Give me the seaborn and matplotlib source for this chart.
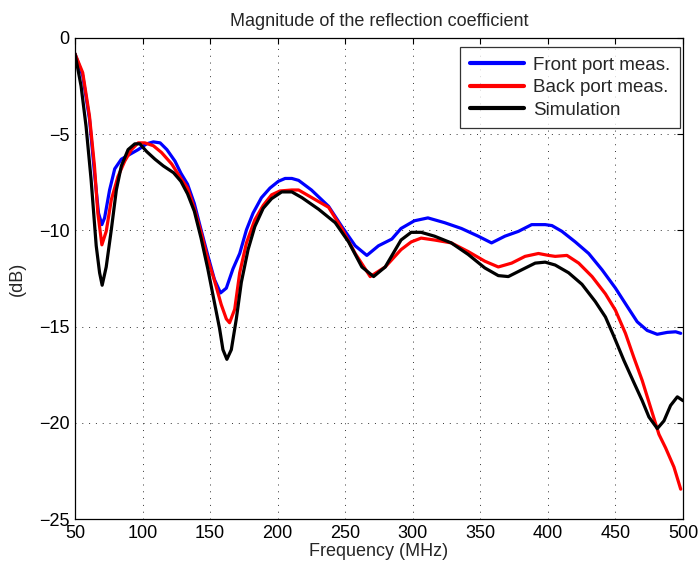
import matplotlib
matplotlib.use("Agg")
import matplotlib.pyplot as plt
import seaborn as sns
import pandas as pd

series_names = ["Front port meas.", "Back port meas.", "Simulation"]
colors = ["#0000ff", "#ff0000", "#000000"]

front_x = [50, 55.7, 60.7, 64.4, 67.4, 69.9, 71.9, 75.6, 79.4, 84.3, 90.5, 96.8, 103, 108, 113, 118, 124,
           128.4, 133.3, 138.3, 143.3, 148.3, 153.2, 157.7, 162, 166.9, 171.9, 176.9, 181.8, 188, 194.3,
           200.5, 205.5, 210.5, 215.5, 225, 237.7, 247.5, 257.4, 266, 274.6, 284.5, 291.3, 301.2, 311.2,
           323.6, 336, 348.4, 358.3, 368.2, 378.2, 388, 398, 403, 410.4, 420.3, 430.2, 440.1, 450, 458.7,
           466.1, 473.5, 480.9, 488.4, 494.6, 498.3]
front_y = [-0.82, -1.95, -4.2, -7.0, -9.1, -9.7, -9.35, -7.9, -6.8, -6.3, -6.05, -5.8, -5.5, -5.4, -5.45, -5.8, -6.4,
           -7.03, -7.6, -8.6, -9.97, -11.3, -12.55, -13.25, -13.0, -12.0, -11.2, -9.97, -9.1, -8.3, -7.8,
           -7.45, -7.3, -7.3, -7.4, -7.9, -8.75, -9.8, -10.8, -11.3, -10.8, -10.45, -9.9, -9.5, -9.35,
           -9.6, -9.9, -10.3, -10.65, -10.3, -10.05, -9.7, -9.7, -9.75, -10.05, -10.6, -11.2, -12.05, -13.0, -13.95,
           -14.75, -15.2, -15.4, -15.3, -15.27, -15.35]

back_x = [50, 55.7, 60.7, 64.4, 66.9, 69.9, 73.1, 76.9, 81.8, 86.8, 91.8, 96.8, 101.7, 108, 114, 121.6,
          128.4, 133.3, 138.3, 143.3, 148.3, 153.2, 158.2, 162, 164.4, 168.2, 171.9, 176.9, 183.1, 189.3,
          195.5, 201.7, 210.5, 215.5, 227.8, 237.7, 247.5, 257.4, 268.5, 279.6, 291.3, 298.8, 306.2, 316.1,
          328.5, 341, 353.3, 363.3, 373.2, 383.1, 393, 400.5, 405.4, 414.1, 422.8, 432.7, 442.6, 450, 457.4,
          463.6, 469.8, 476, 482.2, 487.1, 493.3, 498.3]
back_y = [-0.82, -1.8, -4.05, -6.65, -9.1, -10.75, -10.05, -8.4, -7.2, -6.4, -5.8, -5.45, -5.45, -5.6, -5.95, -6.55,
          -7.3, -7.8, -8.85, -10.1, -11.5, -12.6, -13.85, -14.6, -14.8, -14.1, -12.2, -10.65, -9.45, -8.7,
          -8.15, -7.95, -7.9, -7.9, -8.4, -8.8, -9.9, -11.2, -12.4, -11.9, -11.0, -10.6, -10.4, -10.5,
          -10.65, -11.1, -11.6, -11.9, -11.7, -11.35, -11.2, -11.3, -11.35, -11.3, -11.7, -12.4, -13.3, -14.15, -15.35,
          -16.6, -17.8, -19.2, -20.6, -21.3, -22.3, -23.45]

sim_x = [50, 54.5, 58.2, 61.9, 65.7, 68.2, 70.1, 73.1, 76.9, 80.6, 84.3, 89.3, 94.3, 98, 103, 109.2, 115.4,
         122.9, 128.4, 133.3, 138.3, 143.3, 148.3, 153.2, 157, 159.5, 162.4, 165.7, 169.4, 173.1, 178.1,
         183.1, 189.3, 195.5, 203, 210.5, 218, 230.3, 242.6, 252.5, 262.3, 271, 279.6, 291.3, 298.8, 306.2,
         316.1, 328.5, 341, 353.3, 363.3, 370.7, 380.6, 390.6, 398, 405.4, 415.3, 425.2, 435.1, 442.6, 448.8,
         456.2, 463.6, 469.8, 474.8, 481, 485.9, 490.8, 495.8, 500]
sim_y = [-0.82, -2.5, -4.6, -7.35, -10.8, -12.2, -12.85, -11.9, -9.95, -7.9, -6.65, -5.8, -5.5, -5.5, -5.9, -6.3, -6.65,
         -7.0, -7.45, -8.1, -9.0, -10.4, -12.0, -13.75, -15.1, -16.2, -16.7, -16.2, -14.6, -12.7, -11.0,
         -9.8, -8.85, -8.35, -8.0, -8.0, -8.3, -8.9, -9.6, -10.6, -11.9, -12.4, -11.9, -10.5, -10.1, -10.1,
         -10.3, -10.65, -11.25, -11.95, -12.35, -12.4, -12.05, -11.7, -11.65, -11.8, -12.2, -12.8, -13.7, -14.5, -15.5,
         -16.75, -17.9, -18.85, -19.7, -20.3, -19.9, -19.1, -18.65, -18.85]

x_ticks = [50, 100, 150, 200, 250, 300, 350, 400, 450, 500]
y_ticks = [0, -5, -10, -15, -20, -25]

frames = []
for name, xs, ys in zip(series_names, [front_x, back_x, sim_x], [front_y, back_y, sim_y]):
    frames.append(pd.DataFrame({"Frequency": xs, "dB": ys, "Series": name}))
df = pd.concat(frames, ignore_index=True)

sns.set_style("white")
plt.rcParams["font.family"] = ["Liberation Sans", "DejaVu Sans"]
plt.rcParams["axes.unicode_minus"] = True

fig = plt.figure(figsize=(6.99, 5.70), dpi=100)
ax = fig.add_axes([75 / 699, 1 - 519 / 570, (683 - 75) / 699, (519 - 38) / 570])

sns.lineplot(data=df, x="Frequency", y="dB", hue="Series", hue_order=series_names,
             palette=colors, sort=False, estimator=None, linewidth=2.3, ax=ax)

ax.set_xlim(50, 500)
ax.set_ylim(-25, 0)
ax.set_xticks(x_ticks)
ax.set_yticks(y_ticks)
ax.grid(True, color="#333333", linestyle=(0, (1, 6)), linewidth=0.7)
ax.tick_params(direction="in", length=4, width=0.8, top=True, right=True,
               labelsize=13, colors="black", pad=4)
for s in ax.spines.values():
    s.set_color("black")
    s.set_linewidth(0.9)
ax.set_xlabel("Frequency (MHz)", fontsize=13, labelpad=1)
ax.set_ylabel("(dB)", fontsize=13, labelpad=9)
ax.set_title("Magnitude of the reflection coefficient", fontsize=13, pad=9)

leg = ax.legend(loc="upper right", bbox_to_anchor=((680 - 75) / 608, 1 - (47 - 38) / 481),
                borderaxespad=0, fontsize=13.5, frameon=True, fancybox=False,
                edgecolor="black", handlelength=2.9, borderpad=0.5, labelspacing=0.3,
                handletextpad=0.5)
leg.get_frame().set_linewidth(0.9)
for line in leg.get_lines():
    line.set_linewidth(3.0)

fig.savefig("out.png", dpi=100, facecolor="white")
